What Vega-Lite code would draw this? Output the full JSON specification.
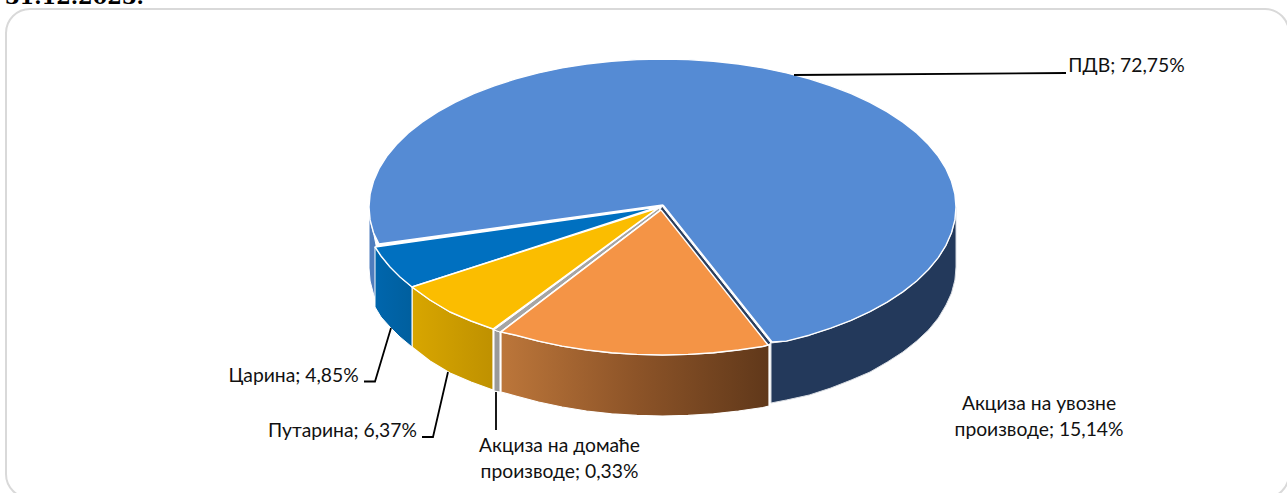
{
"$schema":"https://vega.github.io/schema/vega-lite/v6.json",
"width":1287,"height":493,"padding":0,"autosize":{"type":"none"},
"background":"white","view":{"stroke":null},
"datasets":{
"frame":[{"name":"frame","x":6,"x2":1289,"y":9,"y2":498}],
"title":[{"t":"31.12.2023.","x":5,"y":3.5}],
"labels":[
{"slice":"ПДВ","value":72.75,"label":"ПДВ; 72,75%","x":1126.5,"y":72},
{"slice":"Акциза на увозне производе","value":15.14,"label":"Акциза на увозне\nпроизводе; 15,14%","x":1039,"y":410},
{"slice":"Акциза на домаће производе","value":0.33,"label":"Акциза на домаће\nпроизводе; 0,33%","x":559.5,"y":452},
{"slice":"Путарина","value":6.37,"label":"Путарина; 6,37%","x":342.5,"y":437},
{"slice":"Царина","value":4.85,"label":"Царина; 4,85%","x":293.5,"y":382}
],
"leaders":[
{"s":"ПДВ","i":0,"x":794,"y":75},{"s":"ПДВ","i":1,"x":1066,"y":73},
{"s":"Царина","i":0,"x":391,"y":328},{"s":"Царина","i":1,"x":375,"y":381.5},{"s":"Царина","i":2,"x":364,"y":381.5},
{"s":"Путарина","i":0,"x":448,"y":372},{"s":"Путарина","i":1,"x":433,"y":437},{"s":"Путарина","i":2,"x":422,"y":437},
{"s":"домаће","i":0,"x":496,"y":392},{"s":"домаће","i":1,"x":496,"y":430}
],
"sideNavy":[
{"i":0,"x":771,"y":343},{"i":1,"x":786.5,"y":341.1},{"i":2,"x":809.3,"y":335.2},{"i":3,"x":830.8,"y":328.2},{"i":4,"x":851.2,"y":320.4},{"i":5,"x":870,"y":311.7},{"i":6,"x":887.3,"y":302.1},{"i":7,"x":902.9,"y":291.9},{"i":8,"x":916.7,"y":281},{"i":9,"x":928.5,"y":269.5},{"i":10,"x":938.3,"y":257.6},{"i":11,"x":946,"y":245.3},{"i":12,"x":951.5,"y":232.7},{"i":13,"x":954.9,"y":219.9},{"i":14,"x":956,"y":207},
{"i":15,"x":956,"y":267},{"i":16,"x":954.9,"y":280},{"i":17,"x":951.5,"y":293},{"i":18,"x":946,"y":305},{"i":19,"x":938.3,"y":318},{"i":20,"x":928.5,"y":330},{"i":21,"x":916.7,"y":341},{"i":22,"x":902.9,"y":352},{"i":23,"x":887.3,"y":362},{"i":24,"x":870,"y":372},{"i":25,"x":851.2,"y":380},{"i":26,"x":830.8,"y":388},{"i":27,"x":809.3,"y":395},{"i":28,"x":786.5,"y":400},{"i":29,"x":771,"y":403},{"i":30,"x":771,"y":343}
],
"sideOrange":[
{"i":0,"x":501,"y":332},{"i":1,"x":515.8,"y":335.2},{"i":2,"x":538.5,"y":341.1},{"i":3,"x":562.1,"y":346.1},{"i":4,"x":586.5,"y":350},{"i":5,"x":611.5,"y":352.8},{"i":6,"x":636.9,"y":354.4},{"i":7,"x":662.5,"y":355},{"i":8,"x":688.1,"y":354.4},{"i":9,"x":713.5,"y":352.8},{"i":10,"x":738.5,"y":350},{"i":11,"x":762.9,"y":346.5},{"i":12,"x":769,"y":345},
{"i":13,"x":769,"y":406},{"i":14,"x":762.9,"y":407.5},{"i":15,"x":738.5,"y":411},{"i":16,"x":713.5,"y":413.8},{"i":17,"x":688.1,"y":415.4},{"i":18,"x":662.5,"y":416},{"i":19,"x":636.9,"y":415.4},{"i":20,"x":611.5,"y":413.8},{"i":21,"x":586.5,"y":411},{"i":22,"x":562.1,"y":407},{"i":23,"x":538.5,"y":402},{"i":24,"x":515.8,"y":396},{"i":25,"x":501,"y":392},{"i":26,"x":501,"y":332}
],
"sideYellow":[
{"i":0,"x":412,"y":287},{"i":1,"x":430,"y":300},{"i":2,"x":450,"y":312},{"i":3,"x":471,"y":321},{"i":4,"x":493,"y":329},
{"i":5,"x":493,"y":390},{"i":6,"x":471,"y":382},{"i":7,"x":450,"y":373},{"i":8,"x":430,"y":361},{"i":9,"x":412,"y":347},{"i":10,"x":412,"y":287}
],
"sideBlue":[
{"i":0,"x":375,"y":247},{"i":1,"x":381,"y":256},{"i":2,"x":390,"y":267},{"i":3,"x":400,"y":277},{"i":4,"x":412,"y":287},
{"i":5,"x":412,"y":347},{"i":6,"x":400,"y":337},{"i":7,"x":390,"y":327},{"i":8,"x":381,"y":317},{"i":9,"x":375,"y":307},{"i":10,"x":375,"y":247}
],
"flat":[
{"shape":"leftWall","i":0,"x":369,"y":207},{"shape":"leftWall","i":1,"x":369,"y":268},{"shape":"leftWall","i":2,"x":370.1,"y":281},{"shape":"leftWall","i":3,"x":373.5,"y":294},{"shape":"leftWall","i":4,"x":376,"y":302},{"shape":"leftWall","i":5,"x":376,"y":245},{"shape":"leftWall","i":6,"x":373.5,"y":232.7},{"shape":"leftWall","i":7,"x":370.1,"y":219.9},{"shape":"leftWall","i":8,"x":369,"y":207},
{"shape":"innerNavy","i":0,"x":662,"y":206},{"shape":"innerNavy","i":1,"x":771,"y":343},{"shape":"innerNavy","i":2,"x":768,"y":345},{"shape":"innerNavy","i":3,"x":660,"y":210},{"shape":"innerNavy","i":4,"x":662,"y":206},
{"shape":"sideGray","i":0,"x":494,"y":330},{"shape":"sideGray","i":1,"x":500,"y":332},{"shape":"sideGray","i":2,"x":500,"y":392},{"shape":"sideGray","i":3,"x":494,"y":391},{"shape":"sideGray","i":4,"x":494,"y":330},
{"shape":"topGray","i":0,"x":659,"y":208},{"shape":"topGray","i":1,"x":660,"y":210},{"shape":"topGray","i":2,"x":500,"y":332},{"shape":"topGray","i":3,"x":494,"y":330},{"shape":"topGray","i":4,"x":659,"y":208}
],
"tops":[
{"shape":"ПДВ","i":0,"x":663,"y":205},{"shape":"ПДВ","i":1,"x":772,"y":342},{"shape":"ПДВ","i":2,"x":786.5,"y":341.1},{"shape":"ПДВ","i":3,"x":809.3,"y":335.2},{"shape":"ПДВ","i":4,"x":830.8,"y":328.2},{"shape":"ПДВ","i":5,"x":851.2,"y":320.4},{"shape":"ПДВ","i":6,"x":870,"y":311.7},{"shape":"ПДВ","i":7,"x":887.3,"y":302.1},{"shape":"ПДВ","i":8,"x":902.9,"y":291.9},{"shape":"ПДВ","i":9,"x":916.7,"y":281},{"shape":"ПДВ","i":10,"x":928.5,"y":269.5},{"shape":"ПДВ","i":11,"x":938.3,"y":257.6},{"shape":"ПДВ","i":12,"x":946,"y":245.3},{"shape":"ПДВ","i":13,"x":951.5,"y":232.7},{"shape":"ПДВ","i":14,"x":954.9,"y":219.9},{"shape":"ПДВ","i":15,"x":956,"y":207},{"shape":"ПДВ","i":16,"x":954.9,"y":194.1},{"shape":"ПДВ","i":17,"x":951.5,"y":181.3},{"shape":"ПДВ","i":18,"x":946,"y":168.7},{"shape":"ПДВ","i":19,"x":938.3,"y":156.4},{"shape":"ПДВ","i":20,"x":928.5,"y":144.5},{"shape":"ПДВ","i":21,"x":916.7,"y":133},{"shape":"ПДВ","i":22,"x":902.9,"y":122.1},{"shape":"ПДВ","i":23,"x":887.3,"y":111.9},{"shape":"ПДВ","i":24,"x":870,"y":102.3},{"shape":"ПДВ","i":25,"x":851.2,"y":93.6},{"shape":"ПДВ","i":26,"x":830.8,"y":85.8},{"shape":"ПДВ","i":27,"x":809.3,"y":78.8},{"shape":"ПДВ","i":28,"x":786.5,"y":72.9},{"shape":"ПДВ","i":29,"x":762.9,"y":67.9},{"shape":"ПДВ","i":30,"x":738.5,"y":64},{"shape":"ПДВ","i":31,"x":713.5,"y":61.3},{"shape":"ПДВ","i":32,"x":688.1,"y":59.6},{"shape":"ПДВ","i":33,"x":662.5,"y":59},{"shape":"ПДВ","i":34,"x":636.9,"y":59.6},{"shape":"ПДВ","i":35,"x":611.5,"y":61.3},{"shape":"ПДВ","i":36,"x":586.5,"y":64},{"shape":"ПДВ","i":37,"x":562.1,"y":67.9},{"shape":"ПДВ","i":38,"x":538.5,"y":72.9},{"shape":"ПДВ","i":39,"x":515.8,"y":78.8},{"shape":"ПДВ","i":40,"x":494.2,"y":85.8},{"shape":"ПДВ","i":41,"x":473.8,"y":93.6},{"shape":"ПДВ","i":42,"x":455,"y":102.3},{"shape":"ПДВ","i":43,"x":437.7,"y":111.9},{"shape":"ПДВ","i":44,"x":422.1,"y":122.1},{"shape":"ПДВ","i":45,"x":408.3,"y":133},{"shape":"ПДВ","i":46,"x":396.5,"y":144.5},{"shape":"ПДВ","i":47,"x":386.7,"y":156.4},{"shape":"ПДВ","i":48,"x":379,"y":168.7},{"shape":"ПДВ","i":49,"x":373.5,"y":181.3},{"shape":"ПДВ","i":50,"x":370.1,"y":194.1},{"shape":"ПДВ","i":51,"x":369,"y":207},{"shape":"ПДВ","i":52,"x":370.1,"y":219.9},{"shape":"ПДВ","i":53,"x":373.5,"y":232.7},{"shape":"ПДВ","i":54,"x":379,"y":244},{"shape":"ПДВ","i":55,"x":663,"y":205},
{"shape":"Царина","i":0,"x":658,"y":207},{"shape":"Царина","i":1,"x":375,"y":247},{"shape":"Царина","i":2,"x":381,"y":256},{"shape":"Царина","i":3,"x":390,"y":267},{"shape":"Царина","i":4,"x":400,"y":277},{"shape":"Царина","i":5,"x":412,"y":287},{"shape":"Царина","i":6,"x":658,"y":207},
{"shape":"Путарина","i":0,"x":658,"y":208},{"shape":"Путарина","i":1,"x":412,"y":287},{"shape":"Путарина","i":2,"x":430,"y":300},{"shape":"Путарина","i":3,"x":450,"y":312},{"shape":"Путарина","i":4,"x":471,"y":321},{"shape":"Путарина","i":5,"x":493,"y":329},{"shape":"Путарина","i":6,"x":658,"y":208},
{"shape":"Акциза на увозне производе","i":0,"x":661,"y":210},{"shape":"Акциза на увозне производе","i":1,"x":501,"y":332},{"shape":"Акциза на увозне производе","i":2,"x":515.8,"y":335.2},{"shape":"Акциза на увозне производе","i":3,"x":538.5,"y":341.1},{"shape":"Акциза на увозне производе","i":4,"x":562.1,"y":346.1},{"shape":"Акциза на увозне производе","i":5,"x":586.5,"y":350},{"shape":"Акциза на увозне производе","i":6,"x":611.5,"y":352.8},{"shape":"Акциза на увозне производе","i":7,"x":636.9,"y":354.4},{"shape":"Акциза на увозне производе","i":8,"x":662.5,"y":355},{"shape":"Акциза на увозне производе","i":9,"x":688.1,"y":354.4},{"shape":"Акциза на увозне производе","i":10,"x":713.5,"y":352.8},{"shape":"Акциза на увозне производе","i":11,"x":738.5,"y":350},{"shape":"Акциза на увозне производе","i":12,"x":762.9,"y":346.5},{"shape":"Акциза на увозне производе","i":13,"x":768,"y":345},{"shape":"Акциза на увозне производе","i":14,"x":661,"y":210}
]
},
"layer":[
{"data":{"name":"title"},"mark":{"type":"text","font":"DejaVu Serif","fontWeight":"bold","fontSize":21,"align":"left","baseline":"alphabetic","color":"#000000"},
 "encoding":{"x":{"field":"x","type":"quantitative","scale":{"domain":[0,1287],"nice":false,"zero":false},"axis":null},"y":{"field":"y","type":"quantitative","scale":{"domain":[493,0],"nice":false,"zero":false},"axis":null},"text":{"field":"t"}}},
{"data":{"name":"frame"},"mark":{"type":"rect","fill":"white","stroke":"#d9d9d9","strokeWidth":2,"cornerRadius":24},
 "encoding":{"x":{"field":"x","type":"quantitative"},"x2":{"field":"x2"},"y":{"field":"y","type":"quantitative"},"y2":{"field":"y2"}}},
{"data":{"name":"flat"},"mark":{"type":"line","stroke":"white","strokeWidth":1,"strokeJoin":"round","filled":true,"clip":false},
 "encoding":{"x":{"field":"x","type":"quantitative"},"y":{"field":"y","type":"quantitative"},"order":{"field":"i"},"detail":{"field":"shape"},
 "fill":{"field":"shape","type":"nominal","legend":null,"scale":{"domain":["leftWall","innerNavy","sideGray","topGray"],"range":["#4f7dbe","#2b3f5e","#9a9a9a","#a5a5a5"]}}}},
{"data":{"name":"sideNavy"},"mark":{"type":"line","fill":"#23395b","stroke":"#d9dde3","strokeWidth":1,"strokeJoin":"round"},
 "encoding":{"x":{"field":"x","type":"quantitative"},"y":{"field":"y","type":"quantitative"},"order":{"field":"i"}}},
{"data":{"name":"sideOrange"},"mark":{"type":"line","stroke":"white","strokeWidth":1.2,"strokeJoin":"round","fill":{"gradient":"linear","x1":0,"x2":1,"y1":0,"y2":0,"stops":[{"offset":0,"color":"#bc763a"},{"offset":0.5,"color":"#8d5428"},{"offset":1,"color":"#60381a"}]}},
 "encoding":{"x":{"field":"x","type":"quantitative"},"y":{"field":"y","type":"quantitative"},"order":{"field":"i"}}},
{"data":{"name":"sideYellow"},"mark":{"type":"line","stroke":"white","strokeWidth":1.2,"strokeJoin":"round","fill":{"gradient":"linear","x1":0,"x2":1,"y1":0,"y2":0,"stops":[{"offset":0,"color":"#d8a600"},{"offset":1,"color":"#bf9100"}]}},
 "encoding":{"x":{"field":"x","type":"quantitative"},"y":{"field":"y","type":"quantitative"},"order":{"field":"i"}}},
{"data":{"name":"sideBlue"},"mark":{"type":"line","stroke":"white","strokeWidth":1,"strokeJoin":"round","fill":{"gradient":"linear","x1":0,"x2":1,"y1":0,"y2":0,"stops":[{"offset":0,"color":"#0066ad"},{"offset":1,"color":"#005f9e"}]}},
 "encoding":{"x":{"field":"x","type":"quantitative"},"y":{"field":"y","type":"quantitative"},"order":{"field":"i"}}},
{"data":{"name":"tops"},"mark":{"type":"line","stroke":"white","strokeWidth":1.4,"strokeJoin":"round","filled":true},
 "encoding":{"x":{"field":"x","type":"quantitative"},"y":{"field":"y","type":"quantitative"},"order":{"field":"i"},"detail":{"field":"shape"},
 "fill":{"field":"shape","type":"nominal","legend":null,"scale":{"domain":["ПДВ","Царина","Путарина","Акциза на увозне производе"],"range":["#558bd4","#0070c0","#fbbd00","#f49446"]}}}},
{"data":{"name":"leaders"},"mark":{"type":"line","stroke":"#000000","strokeWidth":1.8,"strokeJoin":"miter"},
 "encoding":{"x":{"field":"x","type":"quantitative"},"y":{"field":"y","type":"quantitative"},"order":{"field":"i"},"detail":{"field":"s"}}},
{"data":{"name":"labels"},"mark":{"type":"text","font":"Lato","fontSize":19.3,"align":"center","baseline":"alphabetic","lineBreak":"\n","lineHeight":26,"color":"#111111"},
 "encoding":{"x":{"field":"x","type":"quantitative"},"y":{"field":"y","type":"quantitative"},"text":{"field":"label"}}}
],
"resolve":{"scale":{"fill":"independent"}}
}
